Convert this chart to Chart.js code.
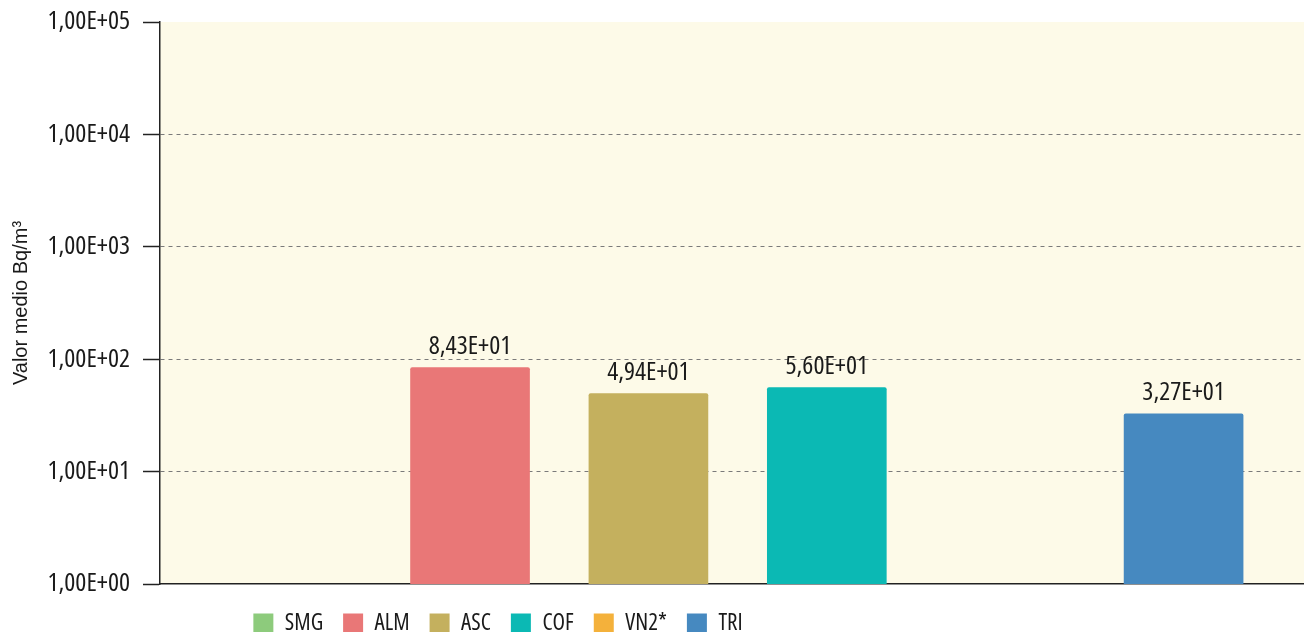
<!DOCTYPE html>
<html>
<head>
<meta charset="utf-8">
<script src="https://cdn.jsdelivr.net/npm/chart.js@4.4.1/dist/chart.umd.min.js"></script>
<style>
  html, body { margin: 0; padding: 0; background: #fff; }
  #wrap { width: 1304px; height: 632px; }
</style>
</head>
<body>
<div id="wrap"><canvas id="chart"></canvas></div>
<script>
// Stations and their mean values (Bq/m3); null = no bar
const categories = ['SMG', 'ALM', 'ASC', 'COF', 'VN2*', 'TRI']
const values = [null, 84.3, 49.4, 56.0, null, 32.7]
const colors = ['#8dcb7c', '#e97777', '#c4b05e', '#0bb9b4', '#f4b13b', '#4689c0']
const yTicks = [1, 10, 100, 1000, 10000, 100000]
const yTickLabels = ['1,00E+00', '1,00E+01', '1,00E+02', '1,00E+03', '1,00E+04', '1,00E+05']

const FAMILY = "'Open Sans', sans-serif"
const WEIGHT = 'normal condensed' // sneaks font-stretch into chart.js font string

// 8.43e+1 -> 8,43E+01
function sci(v) {
  const [m, e] = v.toExponential(2).split('e')
  const n = parseInt(e, 10)
  return m.replace('.', ',') + 'E' + (n < 0 ? '-' : '+') + String(Math.abs(n)).padStart(2, '0')
}

const datasets = categories.map((name, i) => ({
  label: name,
  data: values[i] == null ? [] : [{ x: i, y: values[i] }],
  backgroundColor: colors[i],
  borderColor: colors[i],
  borderWidth: 0,
  borderRadius: 2,
  borderSkipped: 'bottom',
  barThickness: 119,
  grouped: false
}))

// cream plot background
const plotBg = {
  id: 'plotBg',
  beforeDraw(chart) {
    const { ctx, chartArea: a } = chart
    ctx.save()
    ctx.fillStyle = '#fdfae8'
    ctx.fillRect(a.left, a.top, a.right - a.left, a.bottom - a.top)
    ctx.restore()
  }
}

// value labels above bars
const barLabels = {
  id: 'barLabels',
  afterDatasetsDraw(chart) {
    const { ctx } = chart
    ctx.save()
    ctx.font = WEIGHT + ' 26px ' + FAMILY
    ctx.fillStyle = '#1a1a1a'
    ctx.textAlign = 'center'
    ctx.textBaseline = 'alphabetic'
    chart.data.datasets.forEach((ds, i) => {
      const meta = chart.getDatasetMeta(i)
      meta.data.forEach((bar, j) => {
        ctx.fillText(sci(ds.data[j].y), bar.x, bar.y - 14)
      })
    })
    ctx.restore()
  }
}

// legend sits left of centre in the original
const legendShift = {
  id: 'legendShift',
  afterLayout(chart) {
    const lg = chart.legend
    lg.left = 0
    lg.right = 996
    lg.width = 996
  }
}

new Chart(document.getElementById('chart'), {
  type: 'bar',
  data: { datasets },
  plugins: [plotBg, barLabels, legendShift],
  options: {
    responsive: true,
    maintainAspectRatio: false,
    animation: false,
    layout: { padding: { top: 0, right: 0, left: 0, bottom: -13 } },
    scales: {
      x: {
        type: 'linear',
        offset: false,
        min: -0.738,
        max: 5.675,
        afterFit(scale) { scale.height = 8 },
        ticks: { display: false },
        grid: { display: false, drawTicks: false, offset: false },
        border: { display: true, color: '#222', width: 1.5 }
      },
      y: {
        type: 'logarithmic',
        min: 1,
        max: 100000,
        afterFit(scale) {
          scale.width = 160
          scale.paddingTop = 22
          scale.paddingBottom = 0
        },
        afterBuildTicks(scale) {
          scale.ticks = yTicks.map(v => ({ value: v }))
        },
        ticks: {
          font: { family: FAMILY, size: 26, weight: WEIGHT },
          color: '#1a1a1a',
          padding: 13,
          callback: (v) => yTickLabels[yTicks.indexOf(v)]
        },
        grid: {
          color: (c) => (c.tick && (c.tick.value === 1 || c.tick.value === 100000)) ? 'rgba(0,0,0,0)' : '#7a7a7a',
          lineWidth: 1,
          tickColor: '#222',
          tickWidth: 1.5,
          tickLength: 17
        },
        border: { display: true, color: '#222', width: 1.5, dash: [4, 4] },
        title: {
          display: true,
          text: 'Valor medio Bq/m³',
          font: { family: "'Liberation Sans', sans-serif", size: 20 },
          color: '#1a1a1a',
          padding: { top: 9, bottom: 0 }
        }
      }
    },
    plugins: {
      legend: {
        display: true,
        position: 'bottom',
        labels: {
          boxWidth: 20,
          boxHeight: 20,
          padding: 20,
          color: '#1a1a1a',
          font: { family: FAMILY, size: 23, weight: WEIGHT }
        }
      },
      tooltip: { enabled: false }
    }
  }
})
</script>
</body>
</html>
